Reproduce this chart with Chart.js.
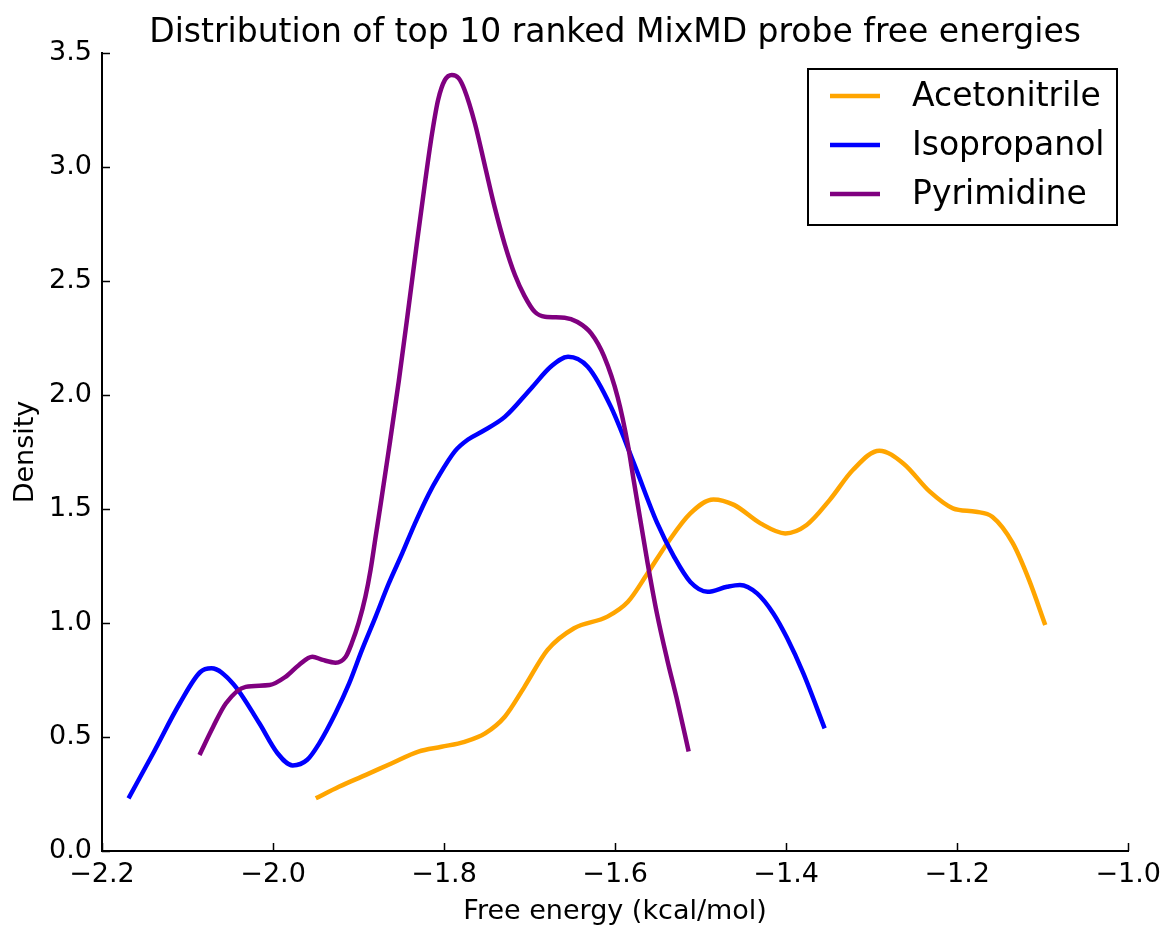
<!DOCTYPE html>
<html>
<head>
<meta charset="utf-8">
<script src="https://cdn.jsdelivr.net/npm/chart.js@4/dist/chart.umd.min.js"></script>
<style>
  body { margin: 0; background: #fff; }
  #wrap { width: 1169px; height: 929px; }
</style>
</head>
<body>
<div id="wrap"><canvas id="chart" width="1169" height="929"></canvas></div>
<script>
// Valores (energia livre em kcal/mol, densidade)
const seriesNames = ['Acetonitrile', 'Isopropanol', 'Pyrimidine'];
const seriesColors = ['#FFA500', '#0000FF', '#800080'];

const acetonitrileX = [-1.950, -1.923, -1.892, -1.861, -1.830, -1.803, -1.776, -1.752, -1.729, -1.706,
  -1.679, -1.648, -1.609, -1.585, -1.562, -1.539, -1.512, -1.485, -1.461, -1.430, -1.401, -1.376,
  -1.349, -1.322, -1.291, -1.263, -1.232, -1.205, -1.178, -1.159, -1.135, -1.116, -1.097];
const acetonitrileY = [0.231, 0.282, 0.333, 0.385, 0.436, 0.457, 0.479, 0.516, 0.589, 0.720,
  0.882, 0.977, 1.028, 1.093, 1.218, 1.350, 1.481, 1.542, 1.518, 1.437, 1.393, 1.430,
  1.540, 1.671, 1.756, 1.700, 1.576, 1.503, 1.488, 1.466, 1.350, 1.189, 0.991];

const isopropanolX = [-2.169, -2.140, -2.109, -2.085, -2.072, -2.047, -2.016, -1.995, -1.977, -1.960,
  -1.946, -1.927, -1.911, -1.896, -1.880, -1.865, -1.849, -1.834, -1.818, -1.807, -1.787, -1.772,
  -1.756, -1.729, -1.698, -1.675, -1.655, -1.632, -1.605, -1.578, -1.551, -1.531, -1.512, -1.492,
  -1.469, -1.454, -1.434, -1.415, -1.399, -1.380, -1.355];
const isopropanolY = [0.231, 0.430, 0.648, 0.785, 0.801, 0.735, 0.560, 0.430, 0.375, 0.400,
  0.472, 0.604, 0.735, 0.882, 1.028, 1.170, 1.305, 1.437, 1.565, 1.640, 1.755, 1.805,
  1.839, 1.904, 2.030, 2.125, 2.168, 2.124, 1.949, 1.700, 1.440, 1.290, 1.180, 1.137,
  1.159, 1.167, 1.130, 1.042, 0.935, 0.780, 0.538];

const pyrimidineX = [-2.086, -2.070, -2.055, -2.032, -2.004, -1.985, -1.970, -1.954, -1.942, -1.927,
  -1.915, -1.908, -1.900, -1.892, -1.886, -1.880, -1.874, -1.865, -1.853, -1.842, -1.832, -1.822,
  -1.814, -1.807, -1.799, -1.791, -1.783, -1.776, -1.764, -1.752, -1.741, -1.729, -1.717, -1.706,
  -1.694, -1.682, -1.659, -1.644, -1.628, -1.613, -1.597, -1.585, -1.578, -1.562, -1.551, -1.539,
  -1.527, -1.514];
const pyrimidineY = [0.421, 0.545, 0.648, 0.720, 0.728, 0.765, 0.815, 0.852, 0.838, 0.826,
  0.852, 0.911, 0.999, 1.115, 1.232, 1.379, 1.525, 1.750, 2.060, 2.370, 2.660, 2.940,
  3.148, 3.294, 3.382, 3.404, 3.390, 3.338, 3.192, 3.001, 2.826, 2.660, 2.525, 2.435,
  2.365, 2.343, 2.339, 2.320, 2.270, 2.170, 1.990, 1.780, 1.620, 1.263, 1.040, 0.838,
  0.654, 0.436];

const xTicks = [-2.2, -2.0, -1.8, -1.6, -1.4, -1.2, -1.0];
const yTicks = [0.0, 0.5, 1.0, 1.5, 2.0, 2.5, 3.0, 3.5];
const titleText = 'Distribution of top 10 ranked MixMD probe free energies';

const FONT = "'DejaVu Sans', sans-serif";

function toPoints(xs, ys) {
    return xs.map((x, i) => ({ x: x, y: ys[i] }));
}

function fmt(v) {
    return Number(v).toFixed(1).replace('-', '\u2212');
}

const allX = [acetonitrileX, isopropanolX, pyrimidineX];
const allY = [acetonitrileY, isopropanolY, pyrimidineY];

const datasets = seriesNames.map((name, i) => ({
    label: name,
    data: toPoints(allX[i], allY[i]),
    borderColor: seriesColors[i],
    backgroundColor: seriesColors[i],
    borderWidth: 4.5,
    pointRadius: 0,
    cubicInterpolationMode: 'monotone',
    fill: false,
    order: seriesNames.length - i
}));

// Título centrado sobre a área do gráfico
const centeredTitle = {
    id: 'centeredTitle',
    afterDraw(chart) {
        const ctx = chart.ctx;
        const area = chart.chartArea;
        ctx.save();
        ctx.font = '33px ' + FONT;
        ctx.fillStyle = '#000';
        ctx.textAlign = 'center';
        ctx.textBaseline = 'alphabetic';
        ctx.fillText(titleText, (area.left + area.right) / 2, 42);
        ctx.restore();
    }
};

// Ticks para dentro, como no matplotlib
const innerTicks = {
    id: 'innerTicks',
    afterDatasetsDraw(chart) {
        const ctx = chart.ctx;
        const xs = chart.scales.x;
        const ys = chart.scales.y;
        const area = chart.chartArea;
        ctx.save();
        ctx.strokeStyle = '#000';
        ctx.lineWidth = 1.5;
        ctx.beginPath();
        xTicks.forEach(v => {
            const px = Math.round(xs.getPixelForValue(v)) + 0.5;
            ctx.moveTo(px, area.bottom);
            ctx.lineTo(px, area.bottom - 8);
        });
        yTicks.forEach(v => {
            const py = Math.round(ys.getPixelForValue(v)) + 0.5;
            ctx.moveTo(area.left, py);
            ctx.lineTo(area.left + 8, py);
        });
        ctx.stroke();
        ctx.restore();
    }
};

// Legenda com moldura dentro da área do gráfico
const boxLegend = {
    id: 'boxLegend',
    afterDraw(chart) {
        const ctx = chart.ctx;
        const left = 808, top = 69, w = 309, h = 156;
        ctx.save();
        ctx.fillStyle = '#fff';
        ctx.fillRect(left, top, w, h);
        ctx.strokeStyle = '#000';
        ctx.lineWidth = 2;
        ctx.strokeRect(left, top, w, h);
        ctx.font = '33px ' + FONT;
        ctx.textBaseline = 'middle';
        ctx.fillStyle = '#000';
        chart.data.datasets.forEach((ds, i) => {
            const y = top + 27 + i * 49;
            ctx.strokeStyle = ds.borderColor;
            ctx.lineWidth = 4.5;
            ctx.beginPath();
            ctx.moveTo(830, y);
            ctx.lineTo(880, y);
            ctx.stroke();
            ctx.fillText(ds.label, 912, y + 1);
        });
        ctx.restore();
    }
};

const config = {
    type: 'line',
    data: { datasets: datasets },
    options: {
        responsive: false,
        animation: false,
        devicePixelRatio: 1,
        layout: { padding: { left: 0, right: 36, top: 53, bottom: 0 } },
        plugins: {
            legend: { display: false },
            tooltip: { enabled: false },
            title: { display: false }
        },
        scales: {
            x: {
                type: 'linear',
                min: -2.2,
                max: -1.0,
                afterFit(scale) { scale.height = 78; },
                afterBuildTicks(scale) { scale.ticks = xTicks.map(v => ({ value: v })); },
                grid: { display: true, drawOnChartArea: false, drawTicks: false },
                border: { display: true, color: '#000', width: 2 },
                ticks: {
                    color: '#000',
                    padding: 8,
                    maxRotation: 0,
                    font: { family: FONT, size: 27 },
                    callback: (v) => fmt(v)
                },
                title: {
                    display: true,
                    text: 'Free energy (kcal/mol)',
                    color: '#000',
                    font: { family: FONT, size: 27 },
                    padding: { top: 0, bottom: 1 }
                }
            },
            y: {
                min: 0,
                max: 3.5,
                afterFit(scale) { scale.width = 102; },
                afterBuildTicks(scale) { scale.ticks = yTicks.map(v => ({ value: v })); },
                grid: { display: true, drawOnChartArea: false, drawTicks: false },
                border: { display: true, color: '#000', width: 2 },
                ticks: {
                    color: '#000',
                    padding: 10,
                    font: { family: FONT, size: 27 },
                    callback: (v) => fmt(v)
                },
                title: {
                    display: true,
                    text: 'Density',
                    color: '#000',
                    font: { family: FONT, size: 27 },
                    padding: { top: 10, bottom: 0 }
                }
            }
        }
    },
    plugins: [innerTicks, boxLegend, centeredTitle]
};

const myChart = new Chart(document.getElementById('chart'), config);
</script>
</body>
</html>
